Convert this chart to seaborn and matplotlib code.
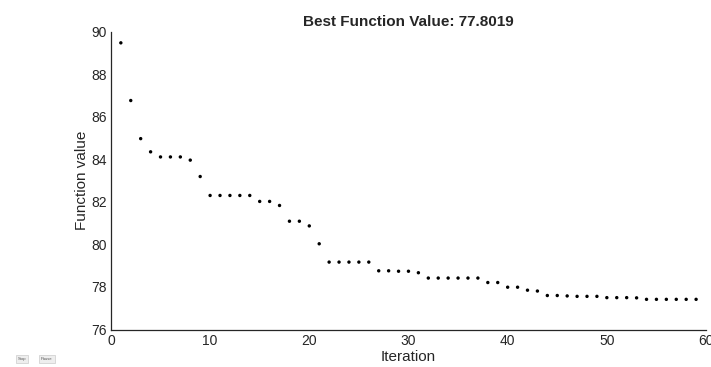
import numpy as np
import pandas as pd
import seaborn as sns
import matplotlib.pyplot as plt

# function value at each iteration
iterations = list(range(1, 60))
values = [
    89.47, 86.76, 84.97, 84.35, 84.11, 84.11, 84.11, 83.96, 83.19, 82.30,
    82.30, 82.30, 82.30, 82.30, 82.02, 82.02, 81.83, 81.09, 81.09, 80.87,
    80.03, 79.17, 79.17, 79.17, 79.17, 79.17, 78.76, 78.76, 78.74, 78.74,
    78.67, 78.42, 78.42, 78.42, 78.42, 78.42, 78.42, 78.21, 78.21, 77.99,
    77.99, 77.85, 77.81, 77.60, 77.60, 77.58, 77.56, 77.56, 77.56, 77.50,
    77.50, 77.50, 77.49, 77.42, 77.42, 77.42, 77.42, 77.42, 77.42,
]
best_value = 77.8019

df = pd.DataFrame({"Iteration": iterations, "Function value": values})

sns.set_style("white")
plt.rcParams['font.family'] = ['Liberation Sans', 'DejaVu Sans']

fig = plt.figure(figsize=(7.11, 3.67), dpi=100)
ax = fig.add_axes([0.156, 0.102, 0.837, 0.812])

sns.scatterplot(data=df, x="Iteration", y="Function value", ax=ax,
                color="black", marker="o", s=6, edgecolor="none")

ax.set_xlim(0, 60)
ax.set_ylim(76, 90)
ax.set_xticks(range(0, 61, 10))
ax.set_yticks(range(76, 91, 2))
ax.tick_params(direction="in", length=4, width=0.8, labelsize=10, colors="#262626")
ax.tick_params(axis="y", pad=3)
ax.spines["top"].set_visible(False)
ax.spines["right"].set_visible(False)
for s in ["left", "bottom"]:
    ax.spines[s].set_color("#262626")
    ax.spines[s].set_linewidth(0.9)

ax.set_xlabel("Iteration", fontsize=11, color="#262626", labelpad=1)
ax.set_ylabel("Function value", fontsize=11, color="#262626", labelpad=1.5)
ax.set_title(f"Best Function Value: {best_value}", fontsize=11, fontweight="bold", pad=4)

# little Stop / Pause buttons in the corner
for x, txt in [(0.031, "Stop"), (0.066, "Pause")]:
    fig.text(x, 0.022, txt, fontsize=3, ha="center", va="center", color="#555555",
             bbox=dict(boxstyle="square,pad=0.5", fc="#eeeeee", ec="#cccccc", lw=0.5))

plt.savefig("out.png", dpi=100)
plt.close()
